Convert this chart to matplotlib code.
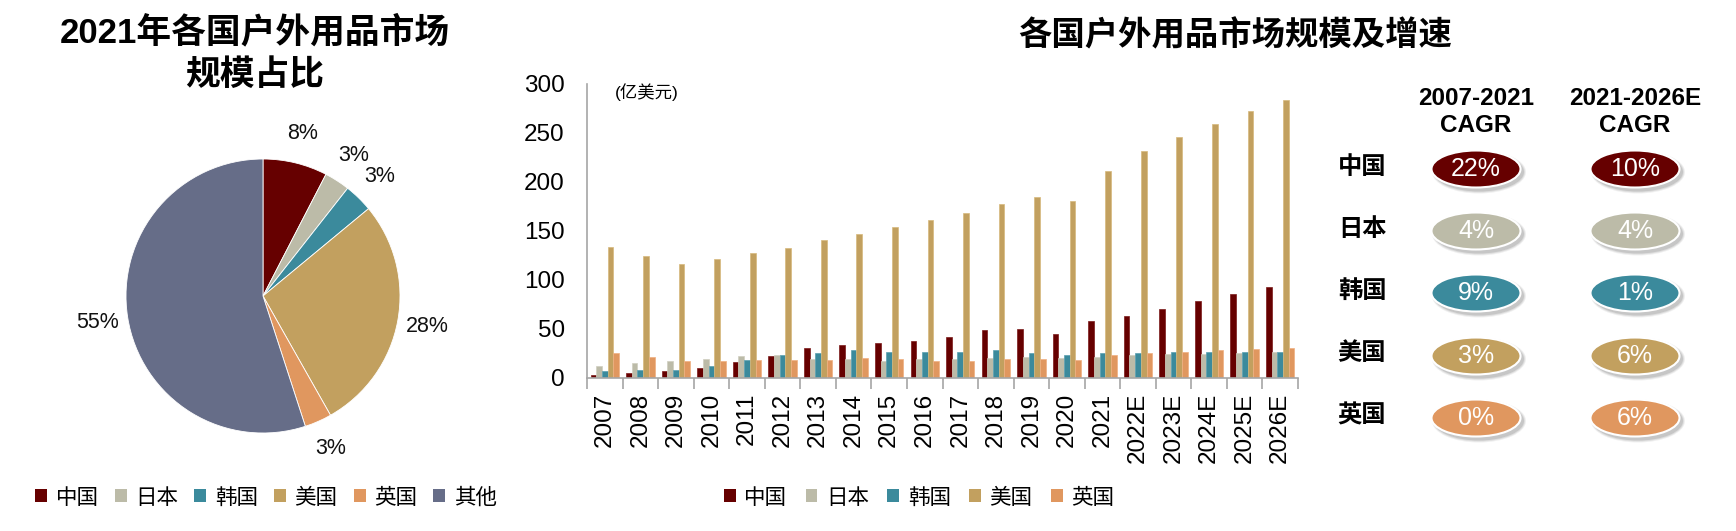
import numpy as np
import matplotlib
matplotlib.use("Agg")
import matplotlib.pyplot as plt
from matplotlib.patches import Ellipse, Patch

plt.rcParams["font.family"] = ["Liberation Sans", "Noto Sans CJK SC", "DejaVu Sans"]

# ---- data ----
countries = ["中国", "日本", "韩国", "美国", "英国"]
pie_names = ["中国", "日本", "韩国", "美国", "英国", "其他"]
pie_shares = [7.6, 3.0, 3.4, 27.8, 3.2, 55.0]

years = ["2007", "2008", "2009", "2010", "2011", "2012", "2013", "2014",
         "2015", "2016", "2017", "2018", "2019", "2020", "2021",
         "2022E", "2023E", "2024E", "2025E", "2026E"]
china = [3, 5, 7, 10, 16, 22.5, 30, 33, 35.5, 37.5, 42, 49, 50, 45, 58,
         63.5, 70.5, 78, 86, 93]
japan = [12, 15, 17, 19, 22.5, 23, 19, 19, 17, 19, 19, 20, 21, 20, 21,
         23, 24, 24.5, 25, 26]
korea = [7, 8, 8, 12, 18, 23, 25, 28, 26, 26, 26, 28, 25, 23, 25,
         25, 26, 26, 26, 26]
usa = [133, 124, 116, 121, 127, 132, 141, 147, 153.5, 161, 168, 177, 185,
       180, 211, 232, 246, 259, 272, 284]
uk = [25, 21, 17, 17, 18, 18, 18, 20, 19, 17, 17, 19, 19, 18, 23,
      25, 26, 28.5, 29.5, 30.5]

cagr_0721 = ["22%", "4%", "9%", "3%", "0%"]
cagr_2126 = ["10%", "4%", "1%", "6%", "6%"]

colors = ["#660000", "#BCBBA8", "#3B8A9C", "#C2A05F", "#E0975F", "#666D88"]
edge_colors = ["#7a1a1a", "#cfcebf", "#5aa0b0", "#d6b97c", "#efb081"]

W, H = 1736, 531
fig = plt.figure(figsize=(W / 100, H / 100), dpi=100)


def fx(px):
    return px / W


def fy(py):
    return 1 - py / H


# ---- pie ----
ax_pie = fig.add_axes([fx(126), fy(433), 274 / W, 274 / H])
ax_pie.pie(
    pie_shares,
    colors=colors,
    startangle=90,
    counterclock=False,
    autopct="%.0f%%",
    pctdistance=1.22,
    wedgeprops=dict(edgecolor="white", linewidth=0.6),
    textprops=dict(fontsize=15.5, color="#111111"),
)
ax_pie.set_xlim(-1, 1)
ax_pie.set_ylim(-1, 1)
ax_pie.set_aspect("equal")

fig.text(fx(255), fy(54), "2021年各国户外用品市场\n规模占比",
         ha="center", va="center", fontsize=25, fontweight="bold",
         linespacing=1.35)

pie_handles = [Patch(facecolor=c, edgecolor="none") for c in colors]
fig.legend(pie_handles, pie_names, loc="center",
           bbox_to_anchor=(fx(266), fy(498)), ncol=6, frameon=False,
           fontsize=15.5, handlelength=0.55, handleheight=0.55,
           handletextpad=0.4, columnspacing=0.75)

# ---- bars ----
ax = fig.add_axes([fx(587), fy(377.7), 711 / W, 293.7 / H])
x = np.arange(len(years))
w = 0.16
series = [china, japan, korea, usa, uk]
for i, vals in enumerate(series):
    ax.bar(x + (i - 2) * w, vals, w, color=colors[i],
           edgecolor=edge_colors[i], linewidth=0.5, label=countries[i])

ax.set_xlim(-0.5, len(years) - 0.5)
ax.set_ylim(0, 300)
ax.set_yticks(range(0, 301, 50))
ax.set_xticks(x)
ax.set_xticklabels(years, rotation=90, fontsize=17.5)
ax.set_xticks(np.arange(-0.5, len(years), 1), minor=True)
ax.tick_params(axis="x", which="major", length=0, pad=11)
ax.tick_params(axis="x", which="minor", length=8, color="#A6A6A6",
               width=1.2, direction="out")
ax.tick_params(axis="y", length=0, pad=16, labelsize=17.5)
for s in ["top", "right"]:
    ax.spines[s].set_visible(False)
for s in ["left", "bottom"]:
    ax.spines[s].set_color("#A6A6A6")
    ax.spines[s].set_linewidth(1.2)

ax.text(0.039, 0.971, "(亿美元)", transform=ax.transAxes,
        fontsize=12.5, va="center", ha="left")

fig.text(fx(1235), fy(36), "各国户外用品市场规模及增速",
         ha="center", va="center", fontsize=24, fontweight="bold")

bar_handles = [Patch(facecolor=c, edgecolor="none") for c in colors[:5]]
fig.legend(bar_handles, countries, loc="center",
           bbox_to_anchor=(fx(919), fy(498)), ncol=5, frameon=False,
           fontsize=15.5, handlelength=0.55, handleheight=0.55,
           handletextpad=0.4, columnspacing=0.85)

# ---- CAGR table ----
ax_t = fig.add_axes([0, 0, 1, 1])
ax_t.set_xlim(0, W)
ax_t.set_ylim(H, 0)
ax_t.axis("off")
ax_t.patch.set_alpha(0)

col_x = [1476, 1635]
row_y = [169, 231, 293, 356, 418]
headers = ["2007-2021\nCAGR", "2021-2026E\nCAGR"]

for cx, head in zip(col_x, headers):
    ax_t.text(cx, 112, head, ha="center", va="center", fontsize=17.5,
              fontweight="bold", linespacing=1.2)

for j, (name, y) in enumerate(zip(countries, row_y)):
    ax_t.text(1362, y - 2, name, ha="center", va="center", fontsize=17.5,
              fontweight="bold")
    for cx, vals in zip(col_x, [cagr_0721, cagr_2126]):
        for k, a in enumerate([0.10, 0.08, 0.06]):
            ax_t.add_patch(Ellipse((cx + 3, y + 3), 90 + 2 * k, 39 + 2 * k,
                                   facecolor="black", edgecolor="none",
                                   alpha=a))
        ax_t.add_patch(Ellipse((cx, y), 89, 37, facecolor=colors[j],
                               edgecolor="white", linewidth=1.5))
        ax_t.text(cx, y, vals[j], ha="center", va="center", color="white",
                  fontsize=18)

fig.savefig("out.png", dpi=100)
